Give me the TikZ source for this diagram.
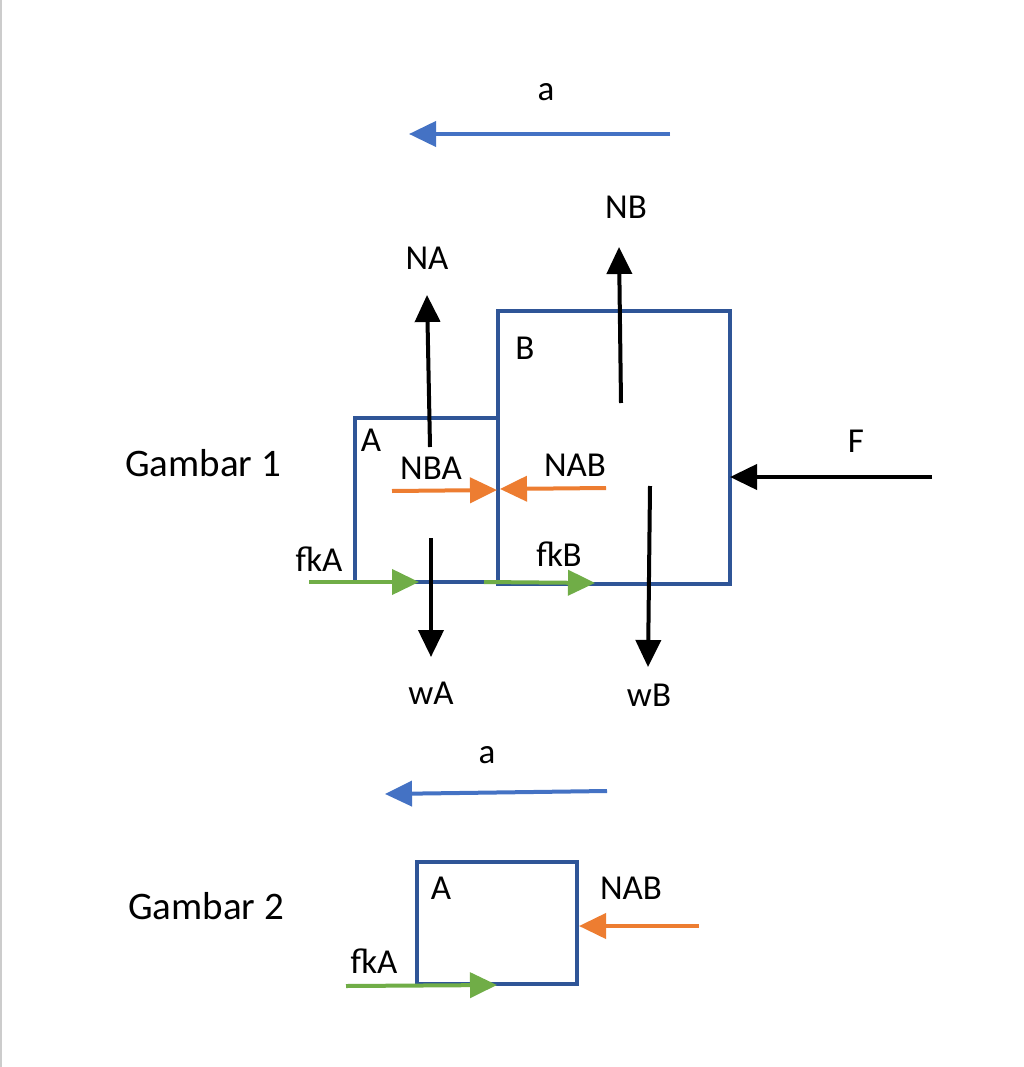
\documentclass[tikz,border=0pt]{standalone}
\usepackage{fontspec}
\setmainfont{Carlito}
\usetikzlibrary{arrows.meta}
\definecolor{boxblue}{HTML}{2F5597}
\definecolor{accblue}{HTML}{4472C4}
\definecolor{forange}{HTML}{ED7D31}
\definecolor{fgreen}{HTML}{70AD47}
\tikzset{
  x=1pt,y=-1pt,
  lbl/.style={inner sep=0pt,font=\fontsize{35}{40}\selectfont},
  glbl/.style={inner sep=0pt,font=\fontsize{39}{44}\selectfont},
  body/.style={draw=boxblue,line width=3.6pt},
  force/.style={line width=4pt,-{Triangle[length=27pt,width=25pt]}},
  blk/.style={force,draw=black,fill=black},
  orn/.style={force,draw=forange,fill=forange},
  grn/.style={force,draw=fgreen,fill=fgreen},
  acc/.style={force,draw=accblue,fill=accblue},
}
\begin{document}
\begin{tikzpicture}
\useasboundingbox (0,0) rectangle (1023,1067);
\fill[white] (0,0) rectangle (1023,1067);
\draw[gray!40,line width=1.5pt] (1,0) -- (1,1067);
% top acceleration
\coordinate (a1s) at (670,134); \coordinate (a1e) at (409,134);
\draw[acc] (a1s) -- (a1e);
\node[lbl] (la1) at (546,92) {a};
% boxes
\node[body,inner sep=0pt,minimum width=232pt,minimum height=273pt] (B) at (614,447.5) {};
\node[body,inner sep=0pt,minimum width=143pt,minimum height=164pt] (A) at (426.5,500) {};
\node[lbl] (lB) at (525,348) {B};
\node[lbl] (lA) at (371,440) {A};
% NA
\coordinate (nas) at (430,447); \coordinate (nae) at (427,295);
\draw[blk] (nas) -- (nae);
\node[lbl] (lNA) at (427,258) {NA};
% NB
\coordinate (nbs) at (621,403); \coordinate (nbe) at (619,247);
\draw[blk] (nbs) -- (nbe);
\node[lbl] (lNB) at (626,207) {NB};
% NBA / NAB
\coordinate (nbas) at (392,491); \coordinate (nbae) at (497,490);
\draw[orn] (nbas) -- (nbae);
\node[lbl] (lNBA) at (431,468) {NBA};
\coordinate (nabs) at (606,488); \coordinate (nabe) at (500,489);
\draw[orn] (nabs) -- (nabe);
\node[lbl] (lNAB) at (575,465) {NAB};
% F
\coordinate (fs) at (932,477); \coordinate (fe) at (730,477);
\draw[blk] (fs) -- (fe);
\node[lbl] (lF) at (856,441) {F};
% weights
\coordinate (was) at (431,538); \coordinate (wae) at (431,657);
\draw[blk] (was) -- (wae);
\node[lbl] (lwA) at (431,693) {wA};
\coordinate (wbs) at (650,486); \coordinate (wbe) at (648,667);
\draw[blk] (wbs) -- (wbe);
\node[lbl] (lwB) at (649,695) {wB};
% friction
\coordinate (fkas) at (309,582); \coordinate (fkae) at (419,582);
\draw[grn] (fkas) -- (fkae);
\node[lbl] (lfkA) at (319,559) {fkA};
\coordinate (fkbs) at (484,582); \coordinate (fkbe) at (595,583);
\draw[grn] (fkbs) -- (fkbe);
\node[lbl] (lfkB) at (559,554) {fkB};
\node[glbl] (g1) at (203,463) {Gambar 1};
% Gambar 2
\node[lbl] (la2) at (487,755) {a};
\coordinate (a2s) at (607,791); \coordinate (a2e) at (385,794);
\draw[acc] (a2s) -- (a2e);
\node[body,inner sep=0pt,minimum width=160pt,minimum height=122pt] (A2) at (497,923) {};
\node[lbl] (lA2) at (441,888) {A};
\coordinate (nab2s) at (699,926); \coordinate (nab2e) at (579,926);
\draw[orn] (nab2s) -- (nab2e);
\node[lbl] (lNAB2) at (631,888) {NAB};
\coordinate (fka2s) at (346,986); \coordinate (fka2e) at (497,985);
\draw[grn] (fka2s) -- (fka2e);
\node[lbl] (lfkA2) at (374,961) {fkA};
\node[glbl] (g2) at (206,906) {Gambar 2};
\end{tikzpicture}
\end{document}
